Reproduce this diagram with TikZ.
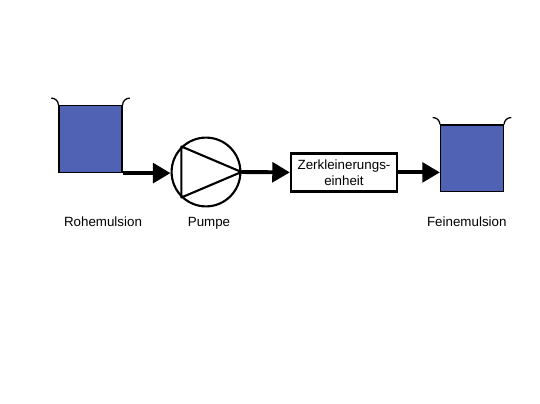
\documentclass[tikz,border=0pt]{standalone}
\usepackage{fontspec}
\setmainfont{Liberation Sans}
\usetikzlibrary{arrows.meta, positioning}
\definecolor{tankblue}{HTML}{4F62B4}

\begin{document}
\begin{tikzpicture}[
    >={Triangle[length=4.4mm, width=4.9mm]},
    tank/.style={
        rectangle,
        draw=black,
        line width=1pt,
        fill=tankblue,
        minimum width=1.57cm,
        minimum height=1.67cm,
        inner sep=0pt
    },
    lip/.style={
        line width=0.9pt,
        black
    },
    pump/.style={
        circle,
        draw=black,
        line width=1.5pt,
        fill=white,
        minimum size=1.72cm,
        inner sep=0pt
    },
    unit/.style={
        rectangle,
        draw=black,
        line width=1.6pt,
        fill=white,
        minimum width=2.65cm,
        minimum height=0.95cm,
        inner sep=0pt,
        align=center,
        font=\fontsize{9.5}{11.4}\selectfont
    },
    caption/.style={
        anchor=base,
        font=\fontsize{9.5}{11.4}\selectfont
    },
    flow/.style={
        ->,
        line width=2.8pt,
        black
    }
]

\useasboundingbox (0, 0) rectangle (13.5, 10.1);

% Behaelter und Apparate
\node[tank] (tank_roh)  at (2.2625, 6.625) {};
\node[pump] (pumpe)     at (5.15, 5.8) {};
\node[unit] (einheit)   at (8.6, 5.79) {Zerkleinerungs-\\einheit};
\node[tank] (tank_fein) at (11.8, 6.14) {};

% Beschriftungen
\node[caption] (lbl_roh)   at (2.575, 4.43) {Rohemulsion};
\node[caption] (lbl_pumpe) at (5.225, 4.43) {Pumpe};
\node[caption] (lbl_fein)  at (11.67, 4.43) {Feinemulsion};

% Behaelterrand
\foreach \t in {tank_roh, tank_fein} {
    \draw[lip] (\t.north west) to[out=90, in=0] ++(-0.18, 0.17);
    \draw[lip] (\t.north east) to[out=90, in=180] ++(0.18, 0.17);
}

% Pumpensymbol
\draw[line width=1.5pt, line join=round] (pumpe.134) -- (pumpe.east) -- (pumpe.226) -- cycle;

% Stoffstrom
\draw[flow] (tank_roh.south east) -- (pumpe.west |- tank_roh.south east);
\draw[flow] (pumpe.east) -- (einheit.west);
\draw[flow] (einheit.east) -- (einheit.east -| tank_fein.west);

\end{tikzpicture}
\end{document}
